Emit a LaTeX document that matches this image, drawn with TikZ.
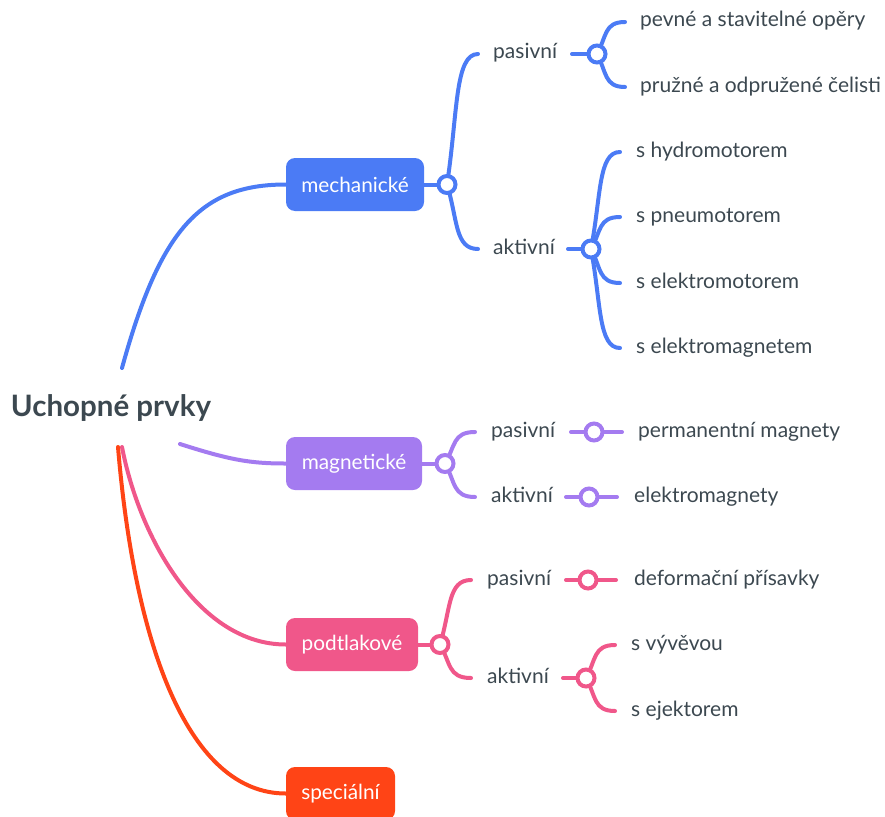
\documentclass[tikz,border=0pt]{standalone}
\usepackage{fontspec}
\setmainfont{Lato}
\usetikzlibrary{calc}
\definecolor{cblue}{HTML}{4B7BF5}
\definecolor{cpurp}{HTML}{A47BF0}
\definecolor{cpink}{HTML}{F0578A}
\definecolor{cred}{HTML}{FF4416}
\definecolor{ctext}{HTML}{3C4850}
\newcommand\brc[3]{\draw[conn,#1] let \p1=(#2), \p2=(#3) in (#2) .. controls ({\x1+0.35*(\x2-\x1)},{\y1+0.55*(\y2-\y1)}) and ({\x1+0.25*(\x2-\x1)},{\y2}) .. (#3);}
\begin{document}
\begin{tikzpicture}[x=1pt,y=-1pt,
 conn/.style={line width=4pt, line cap=round},
 hub/.style={circle, line width=4pt, fill=white, minimum size=17pt, inner sep=0pt},
 box/.style={rounded corners=9pt, text=white, minimum height=53pt, inner sep=0pt, font=\fontsize{20.8}{24}\selectfont},
 lbl/.style={anchor=west, text=ctext, inner sep=0pt, text height=15pt, text depth=5pt, font=\fontsize{21}{25}\selectfont},
]
\useasboundingbox (0,0) rectangle (885,816);
\node[font=\bfseries\fontsize{29.5}{34}\selectfont, text=ctext] (root) at (111,408) {Uchopné prvky};

% ---------- mechanické ----------
\node[box, fill=cblue, minimum width=138pt] (mech) at (355,184.5) {mechanické};
\coordinate (rb) at (122,368);
\draw[conn,cblue] (rb) .. controls (160,230) and (200,184.5) .. (mech.west);
\coordinate (mh) at (447,184.5);
\draw[conn,cblue] (mech.east) -- (mh);
\node[lbl] (mpas) at (493,54) {pasivní};
\node[lbl] (makt) at (493,249) {aktivní};
\coordinate (mpasE) at (478,54);
\coordinate (maktE) at (478,249);
\brc{cblue}{mh}{mpasE}
\brc{cblue}{mh}{maktE}
% pasivní
\coordinate (mpS) at (572,54);
\coordinate (mph) at (597,54);
\draw[conn,cblue] (mpS) -- (mph);
\coordinate (mp1) at (625,22);
\coordinate (mp2) at (625,87);
\brc{cblue}{mph}{mp1}
\brc{cblue}{mph}{mp2}
\node[lbl] (tp1) at (640,22) {pevné a stavitelné opěry};
\node[lbl] (tp2) at (640,87) {pružné a odpružené čelisti};
% aktivní
\coordinate (maS) at (568,249);
\coordinate (mah) at (591,249);
\draw[conn,cblue] (maS) -- (mah);
\coordinate (ma1) at (620,152);
\coordinate (ma2) at (620,217);
\coordinate (ma3) at (620,283);
\coordinate (ma4) at (620,348);
\brc{cblue}{mah}{ma1}
\brc{cblue}{mah}{ma2}
\brc{cblue}{mah}{ma3}
\brc{cblue}{mah}{ma4}
\node[lbl] (ta1) at (636,152) {s hydromotorem};
\node[lbl] (ta2) at (636,217) {s pneumotorem};
\node[lbl] (ta3) at (636,283) {s elektromotorem};
\node[lbl] (ta4) at (636,348) {s elektromagnetem};
\node[hub,draw=cblue] (mhN) at (mh) {};
\node[hub,draw=cblue] (mphN) at (mph) {};
\node[hub,draw=cblue] (mahN) at (mah) {};

% ---------- magnetické ----------
\node[box, fill=cpurp, minimum width=136pt] (mag) at (354,463.5) {magnetické};
\coordinate (rp) at (180,444);
\draw[conn,cpurp] (rp) .. controls (230,460) and (250,463.5) .. (mag.west);
\coordinate (gh) at (445,463.5);
\draw[conn,cpurp] (mag.east) -- (gh);
\coordinate (gpE) at (475,432);
\coordinate (gaE) at (475,497);
\brc{cpurp}{gh}{gpE}
\brc{cpurp}{gh}{gaE}
\node[lbl] (gpas) at (491,432) {pasivní};
\node[lbl] (gakt) at (491,497) {aktivní};
\coordinate (gpS) at (571,432);
\coordinate (gpT) at (622,432);
\coordinate (gph) at (594,432);
\draw[conn,cpurp] (gpS) -- (gpT);
\node[lbl] (gt1) at (638,432) {permanentní magnety};
\coordinate (gaS) at (566,497);
\coordinate (gaT) at (617,497);
\coordinate (gah) at (589,497);
\draw[conn,cpurp] (gaS) -- (gaT);
\node[lbl] (gt2) at (634,497) {elektromagnety};
\node[hub,draw=cpurp] (ghN) at (gh) {};
\node[hub,draw=cpurp] (gphN) at (gph) {};
\node[hub,draw=cpurp] (gahN) at (gah) {};

% ---------- podtlakové ----------
\node[box, fill=cpink, minimum width=132pt] (pod) at (352,644.5) {podtlakové};
\coordinate (rk) at (122,447);
\draw[conn,cpink] (rk) .. controls (140,540) and (200,644.5) .. (pod.west);
\coordinate (ph) at (440,644.5);
\draw[conn,cpink] (pod.east) -- (ph);
\coordinate (ppE) at (471,580);
\coordinate (paE) at (471,678);
\brc{cpink}{ph}{ppE}
\brc{cpink}{ph}{paE}
\node[lbl] (ppas) at (487,580) {pasivní};
\node[lbl] (pakt) at (487,678) {aktivní};
\coordinate (ppS) at (566,580);
\coordinate (ppT) at (616,580);
\coordinate (pph) at (588,580);
\draw[conn,cpink] (ppS) -- (ppT);
\node[lbl] (pt1) at (634,580) {deformační přísavky};
\coordinate (paS) at (563,678);
\coordinate (pah) at (586,678);
\draw[conn,cpink] (paS) -- (pah);
\coordinate (pa1) at (615,645);
\coordinate (pa2) at (615,711);
\brc{cpink}{pah}{pa1}
\brc{cpink}{pah}{pa2}
\node[lbl] (pt2) at (631,645) {s vývěvou};
\node[lbl] (pt3) at (631,711) {s ejektorem};
\node[hub,draw=cpink] (phN) at (ph) {};
\node[hub,draw=cpink] (pphN) at (pph) {};
\node[hub,draw=cpink] (pahN) at (pah) {};

% ---------- speciální ----------
\node[box, fill=cred, minimum width=109pt] (spec) at (340.5,793.5) {speciální};
\coordinate (rs) at (118,447);
\draw[conn,cred] (rs) .. controls (135,650) and (190,793.5) .. (spec.west);
\end{tikzpicture}
\end{document}
